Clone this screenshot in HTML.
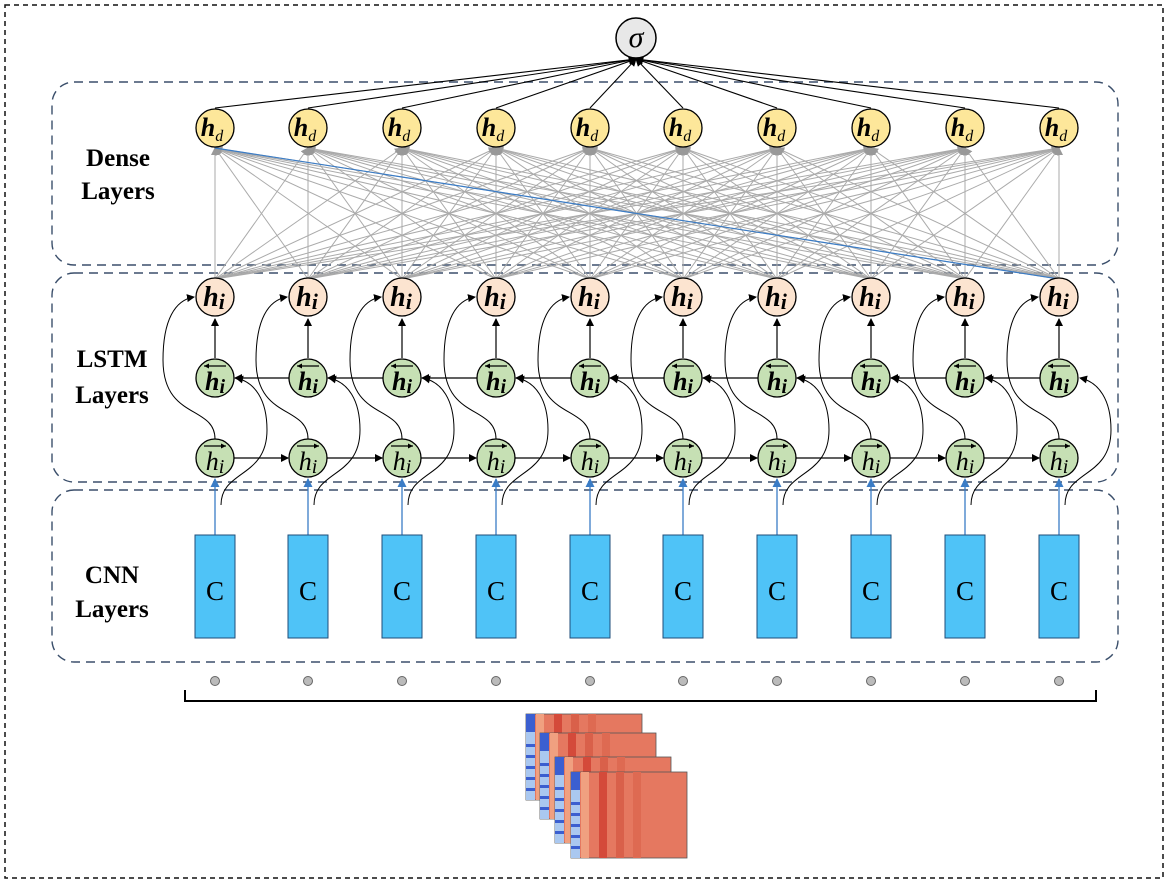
<!DOCTYPE html>
<html><head><meta charset="utf-8"><style>
html,body{margin:0;padding:0;background:#fff;}
svg{display:block;font-family:"Liberation Serif",serif;}
</style></head><body>
<svg id="s" width="1169" height="885" xmlns="http://www.w3.org/2000/svg">
<defs>
<marker id="ab" markerWidth="8" markerHeight="8" refX="7" refY="4" orient="auto" markerUnits="userSpaceOnUse"><path d="M0,0 L8,4 L0,8 z" fill="#000"/></marker>
<marker id="ag" markerWidth="8" markerHeight="8" refX="7" refY="4" orient="auto" markerUnits="userSpaceOnUse"><path d="M0,0 L8,4 L0,8 z" fill="#999"/></marker>
<marker id="al" markerWidth="9" markerHeight="9" refX="8" refY="4.5" orient="auto" markerUnits="userSpaceOnUse"><path d="M0,0 L9,4.5 L0,9 z" fill="#3a7cc6"/></marker>
</defs>
<rect x="5" y="5" width="1158" height="873" fill="none" stroke="#111" stroke-width="1.5" stroke-dasharray="5,4"/>
<rect x="52" y="82" width="1066" height="183" rx="22" fill="none" stroke="#3b4f6b" stroke-width="1.4" stroke-dasharray="9,6"/>
<rect x="52" y="273" width="1066" height="209" rx="22" fill="none" stroke="#3b4f6b" stroke-width="1.4" stroke-dasharray="9,6"/>
<rect x="52" y="490" width="1066" height="172" rx="22" fill="none" stroke="#3b4f6b" stroke-width="1.4" stroke-dasharray="9,6"/>
<g font-weight="bold" font-size="25" text-anchor="middle">
<text x="118" y="166">Dense</text><text x="118" y="199">Layers</text>
<text x="112" y="367">LSTM</text><text x="112" y="403">Layers</text>
<text x="112" y="583">CNN</text><text x="112" y="617">Layers</text>
</g>
<g id="g"></g>
</svg>
<script>
var X=[215,308,402,496,590,683,777,871,965,1059];
var g=document.getElementById('g'),h='';
X.forEach(function(a){X.forEach(function(b){h+='<line x1="'+a+'" y1="279" x2="'+b+'" y2="148" stroke="#aaa" stroke-width="1" marker-end="url(#ag)"/>';});});
h+='<line x1="1059" y1="279" x2="215" y2="148" stroke="#3a7cc6" stroke-width="1.2"/>';
X.forEach(function(a){h+='<line x1="'+a+'" y1="108" x2="636" y2="59" stroke="#000" stroke-width="1.1" marker-end="url(#ab)"/>';});
h+='<circle cx="636" cy="38" r="20" fill="#e8e8e8" stroke="#000" stroke-width="1.5"/><text x="636" y="47" font-size="30" font-style="italic" text-anchor="middle">σ</text>';
X.forEach(function(x,i){
 h+='<circle cx="'+x+'" cy="128" r="19" fill="#fde79a" stroke="#000" stroke-width="1.3"/><text x="'+(x-3)+'" y="136" font-size="26" font-weight="bold" font-style="italic" text-anchor="middle">h<tspan font-size="16" font-weight="normal" dy="5">d</tspan></text>';
 h+='<line x1="'+x+'" y1="358" x2="'+x+'" y2="319" stroke="#000" stroke-width="1.2" marker-end="url(#ab)"/>';
 if(i<9){h+='<line x1="'+(x+19)+'" y1="458" x2="'+(X[i+1]-20)+'" y2="458" stroke="#000" stroke-width="1.2" marker-end="url(#ab)"/>';
 h+='<line x1="'+(X[i+1]-19)+'" y1="378" x2="'+(x+20)+'" y2="378" stroke="#000" stroke-width="1.2" marker-end="url(#ab)"/>';}
 h+='<path d="M'+x+',439 C'+x+',405 '+(x-52)+',420 '+(x-52)+',360 C'+(x-52)+',320 '+(x-40)+',300 '+(x-21)+',297" fill="none" stroke="#000" stroke-width="1" marker-end="url(#ab)"/>';
 h+='<path d="M'+(x+6)+',505 C'+(x+6)+',470 '+(x+52)+',478 '+(x+52)+',430 C'+(x+52)+',400 '+(x+40)+',382 '+(x+21)+',378" fill="none" stroke="#000" stroke-width="1" marker-end="url(#ab)"/>';
 h+='<circle cx="'+x+'" cy="297" r="19" fill="#fce4d0" stroke="#000" stroke-width="1.3"/><text x="'+(x-1)+'" y="306" font-size="28" font-weight="bold" font-style="italic" text-anchor="middle">h<tspan font-size="22" dy="3">i</tspan></text>';
 h+='<circle cx="'+x+'" cy="378" r="19" fill="#c6e0b4" stroke="#000" stroke-width="1.3"/><text x="'+x+'" y="390" font-size="26" font-weight="bold" font-style="italic" text-anchor="middle">h<tspan font-size="20" dy="3">i</tspan></text><line x1="'+(x-11)+'" y1="366" x2="'+(x+11)+'" y2="366" stroke="#000" stroke-width="1.2"/><path d="M'+(x-11)+',366 l5,-2.5 l0,5z" fill="#000"/>';
 h+='<circle cx="'+x+'" cy="458" r="19" fill="#c6e0b4" stroke="#000" stroke-width="1.3"/><text x="'+x+'" y="470" font-size="26" font-style="italic" text-anchor="middle">h<tspan font-size="20" dy="3">i</tspan></text><line x1="'+(x-11)+'" y1="446" x2="'+(x+11)+'" y2="446" stroke="#000" stroke-width="1.2"/><path d="M'+(x+11)+',446 l-5,-2.5 l0,5z" fill="#000"/>';
 h+='<line x1="'+x+'" y1="535" x2="'+x+'" y2="479" stroke="#3a7cc6" stroke-width="1.3" marker-end="url(#al)"/>';
 h+='<rect x="'+(x-20)+'" y="535" width="40" height="103" fill="#4fc3f7" stroke="#1f4e79" stroke-width="1"/><text x="'+x+'" y="600" font-size="27" text-anchor="middle">C</text>';
 h+='<circle cx="'+x+'" cy="681" r="4.5" fill="#bbb" stroke="#666" stroke-width="1"/>';
});
h+='<path d="M185,690 L185,701 L1096,701 L1096,690" fill="none" stroke="#000" stroke-width="2"/>';
[[526,714],[540,733],[555,757],[571,772]].forEach(function(p){
 var x=p[0],y=p[1],w=116,hh=86;
 h+='<rect x="'+x+'" y="'+y+'" width="'+w+'" height="'+hh+'" fill="#e57860" stroke="#555" stroke-width="0.8"/>';
 h+='<rect x="'+x+'" y="'+y+'" width="9" height="'+hh+'" fill="#aac8f0"/><rect x="'+x+'" y="'+y+'" width="9" height="18" fill="#3b5fd0"/>';
 for(var k=0;k<5;k++)h+='<rect x="'+x+'" y="'+(y+30+k*11)+'" width="9" height="3" fill="#3b5fd0"/>';
 h+='<rect x="'+(x+10)+'" y="'+y+'" width="8" height="'+hh+'" fill="#f0a080"/><rect x="'+(x+28)+'" y="'+y+'" width="8" height="'+hh+'" fill="#d44a3a"/><rect x="'+(x+45)+'" y="'+y+'" width="8" height="'+hh+'" fill="#d9604a"/><rect x="'+(x+62)+'" y="'+y+'" width="8" height="'+hh+'" fill="#de6a52"/>';
});
g.innerHTML=h;
</script>
</body></html>
